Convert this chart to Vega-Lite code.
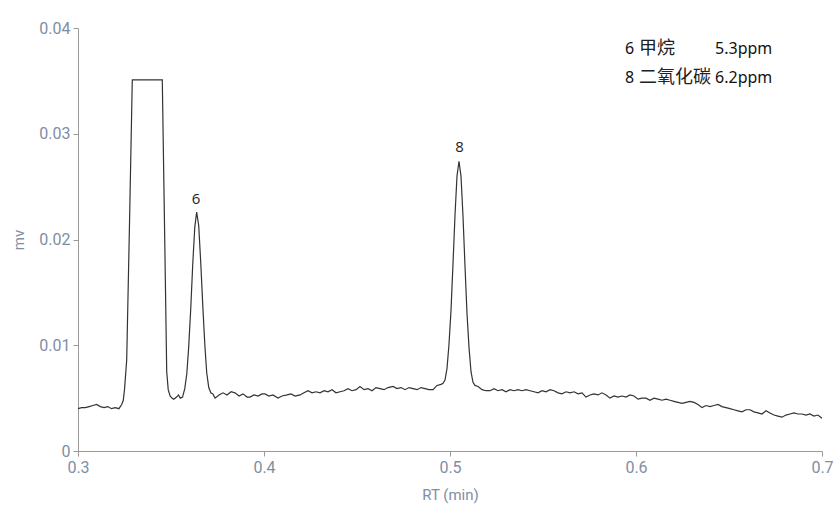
{
  "$schema": "https://vega.github.io/schema/vega-lite/v6.json",
  "width": 744,
  "height": 423,
  "autosize": {"type": "none"},
  "padding": {"left": 78, "top": 28, "right": 16, "bottom": 57},
  "background": "white",
  "config": {
    "view": {"stroke": null},
    "axis": {
      "grid": false,
      "domainColor": "#9a9a9a",
      "tickColor": "#9a9a9a",
      "tickSize": 5,
      "labelPadding": 3,
      "labelFlush": false,
      "labelColor": "#7f8ea3",
      "titleColor": "#7f8ea3",
      "labelFont": "Roboto",
      "titleFont": "Roboto",
      "labelFontSize": 16,
      "titleFontSize": 15,
      "titleFontWeight": "normal"
    }
  },
  "datasets": {
    "trace": [
      {"t": 0.3000, "v": 0.0040}, {"t": 0.3020, "v": 0.0041}, {"t": 0.3040, "v": 0.0041}, {"t": 0.3060, "v": 0.0042},
      {"t": 0.3080, "v": 0.0043}, {"t": 0.3100, "v": 0.0044}, {"t": 0.3120, "v": 0.0042}, {"t": 0.3140, "v": 0.0041},
      {"t": 0.3160, "v": 0.0042}, {"t": 0.3180, "v": 0.0040}, {"t": 0.3200, "v": 0.0041}, {"t": 0.3220, "v": 0.0040},
      {"t": 0.3235, "v": 0.0044}, {"t": 0.32435, "v": 0.0048}, {"t": 0.3250, "v": 0.0058}, {"t": 0.32618, "v": 0.0086},
      {"t": 0.32769, "v": 0.0215}, {"t": 0.32919, "v": 0.0351}, {"t": 0.3350, "v": 0.0351}, {"t": 0.3400, "v": 0.0351},
      {"t": 0.34532, "v": 0.0351}, {"t": 0.3465, "v": 0.0215}, {"t": 0.3477, "v": 0.0075}, {"t": 0.3485, "v": 0.0058},
      {"t": 0.3495, "v": 0.0052}, {"t": 0.3505, "v": 0.0050}, {"t": 0.3515, "v": 0.0049}, {"t": 0.3530, "v": 0.0051},
      {"t": 0.3540, "v": 0.0053}, {"t": 0.3550, "v": 0.0050}, {"t": 0.3562, "v": 0.0051}, {"t": 0.3574, "v": 0.0059},
      {"t": 0.3585, "v": 0.0073}, {"t": 0.3595, "v": 0.0098}, {"t": 0.3606, "v": 0.0134}, {"t": 0.3617, "v": 0.0177},
      {"t": 0.3628, "v": 0.0212}, {"t": 0.3638, "v": 0.0226}, {"t": 0.3649, "v": 0.0213}, {"t": 0.3660, "v": 0.0178},
      {"t": 0.3671, "v": 0.0137}, {"t": 0.3682, "v": 0.0100}, {"t": 0.3692, "v": 0.0074}, {"t": 0.3703, "v": 0.0060},
      {"t": 0.3714, "v": 0.0055}, {"t": 0.3725, "v": 0.0054}, {"t": 0.3737, "v": 0.0050}, {"t": 0.3758, "v": 0.0053},
      {"t": 0.3780, "v": 0.0055}, {"t": 0.3801, "v": 0.0053}, {"t": 0.3823, "v": 0.0056}, {"t": 0.3844, "v": 0.0055},
      {"t": 0.3866, "v": 0.0052}, {"t": 0.3887, "v": 0.0054}, {"t": 0.3909, "v": 0.0051}, {"t": 0.3925, "v": 0.0051},
      {"t": 0.3946, "v": 0.0053}, {"t": 0.3968, "v": 0.0052}, {"t": 0.3989, "v": 0.0054}, {"t": 0.4005, "v": 0.0054},
      {"t": 0.4027, "v": 0.0052}, {"t": 0.4048, "v": 0.0053}, {"t": 0.4075, "v": 0.0050}, {"t": 0.4097, "v": 0.0052},
      {"t": 0.4124, "v": 0.0053}, {"t": 0.4145, "v": 0.0054}, {"t": 0.4167, "v": 0.0052}, {"t": 0.4194, "v": 0.0053},
      {"t": 0.4215, "v": 0.0055}, {"t": 0.4237, "v": 0.0057}, {"t": 0.4258, "v": 0.0055}, {"t": 0.4280, "v": 0.0056},
      {"t": 0.4301, "v": 0.0055}, {"t": 0.4323, "v": 0.0057}, {"t": 0.4344, "v": 0.0056}, {"t": 0.4366, "v": 0.0058},
      {"t": 0.4387, "v": 0.0055}, {"t": 0.4409, "v": 0.0056}, {"t": 0.4430, "v": 0.0057}, {"t": 0.4452, "v": 0.0059},
      {"t": 0.4473, "v": 0.0057}, {"t": 0.4495, "v": 0.0058}, {"t": 0.4516, "v": 0.0061}, {"t": 0.4538, "v": 0.0058},
      {"t": 0.4559, "v": 0.0059}, {"t": 0.4581, "v": 0.0057}, {"t": 0.4602, "v": 0.0060}, {"t": 0.4624, "v": 0.0059},
      {"t": 0.4645, "v": 0.0058}, {"t": 0.4667, "v": 0.0060}, {"t": 0.4694, "v": 0.0061}, {"t": 0.4715, "v": 0.0059},
      {"t": 0.4737, "v": 0.0060}, {"t": 0.4758, "v": 0.0058}, {"t": 0.4780, "v": 0.0060}, {"t": 0.4801, "v": 0.0059},
      {"t": 0.4823, "v": 0.0058}, {"t": 0.4844, "v": 0.0060}, {"t": 0.4866, "v": 0.0059}, {"t": 0.4887, "v": 0.0058},
      {"t": 0.4909, "v": 0.0058}, {"t": 0.4930, "v": 0.0062}, {"t": 0.4952, "v": 0.0063}, {"t": 0.49624, "v": 0.0064},
      {"t": 0.49731, "v": 0.0067}, {"t": 0.49839, "v": 0.0078}, {"t": 0.49946, "v": 0.0101}, {"t": 0.50054, "v": 0.0133},
      {"t": 0.50161, "v": 0.0177}, {"t": 0.50269, "v": 0.0223}, {"t": 0.50376, "v": 0.0260}, {"t": 0.50484, "v": 0.0274},
      {"t": 0.50591, "v": 0.0260}, {"t": 0.50699, "v": 0.0222}, {"t": 0.50806, "v": 0.0175}, {"t": 0.50914, "v": 0.0130},
      {"t": 0.51022, "v": 0.0098}, {"t": 0.51129, "v": 0.0075}, {"t": 0.51237, "v": 0.0065}, {"t": 0.51344, "v": 0.0062},
      {"t": 0.5151, "v": 0.0061}, {"t": 0.5172, "v": 0.0058}, {"t": 0.5194, "v": 0.0057}, {"t": 0.5215, "v": 0.0057},
      {"t": 0.5237, "v": 0.0059}, {"t": 0.5258, "v": 0.0057}, {"t": 0.5280, "v": 0.0058}, {"t": 0.5301, "v": 0.0056},
      {"t": 0.5323, "v": 0.0058}, {"t": 0.5344, "v": 0.0057}, {"t": 0.5366, "v": 0.0058}, {"t": 0.5387, "v": 0.0057},
      {"t": 0.5409, "v": 0.0058}, {"t": 0.5430, "v": 0.0057}, {"t": 0.5452, "v": 0.0056}, {"t": 0.5473, "v": 0.0055},
      {"t": 0.5495, "v": 0.0057}, {"t": 0.5516, "v": 0.0056}, {"t": 0.5538, "v": 0.0058}, {"t": 0.5559, "v": 0.0057},
      {"t": 0.5581, "v": 0.0055}, {"t": 0.5602, "v": 0.0054}, {"t": 0.5624, "v": 0.0056}, {"t": 0.5645, "v": 0.0055},
      {"t": 0.5667, "v": 0.0056}, {"t": 0.5688, "v": 0.0054}, {"t": 0.5710, "v": 0.0055}, {"t": 0.5731, "v": 0.0051},
      {"t": 0.5753, "v": 0.0053}, {"t": 0.5774, "v": 0.0054}, {"t": 0.5796, "v": 0.0053}, {"t": 0.5817, "v": 0.0055},
      {"t": 0.5839, "v": 0.0053}, {"t": 0.5860, "v": 0.0050}, {"t": 0.5882, "v": 0.0052}, {"t": 0.5903, "v": 0.0051},
      {"t": 0.5925, "v": 0.0052}, {"t": 0.5946, "v": 0.0051}, {"t": 0.5968, "v": 0.0053}, {"t": 0.5989, "v": 0.0052},
      {"t": 0.6011, "v": 0.0049}, {"t": 0.6032, "v": 0.0050}, {"t": 0.6054, "v": 0.0050}, {"t": 0.6075, "v": 0.0048},
      {"t": 0.6097, "v": 0.0050}, {"t": 0.6118, "v": 0.0049}, {"t": 0.6140, "v": 0.0048}, {"t": 0.6161, "v": 0.0049},
      {"t": 0.6183, "v": 0.0048}, {"t": 0.6204, "v": 0.0047}, {"t": 0.6226, "v": 0.0046}, {"t": 0.6247, "v": 0.0045},
      {"t": 0.6269, "v": 0.0046}, {"t": 0.6290, "v": 0.0047}, {"t": 0.6312, "v": 0.0046}, {"t": 0.6333, "v": 0.0044},
      {"t": 0.6355, "v": 0.0041}, {"t": 0.6376, "v": 0.0043}, {"t": 0.6398, "v": 0.0042}, {"t": 0.6419, "v": 0.0043},
      {"t": 0.6441, "v": 0.0044}, {"t": 0.6462, "v": 0.0042}, {"t": 0.6484, "v": 0.0041}, {"t": 0.6505, "v": 0.0040},
      {"t": 0.6527, "v": 0.0039}, {"t": 0.6548, "v": 0.0038}, {"t": 0.6570, "v": 0.0037}, {"t": 0.6591, "v": 0.0039},
      {"t": 0.6613, "v": 0.0039}, {"t": 0.6634, "v": 0.0037}, {"t": 0.6656, "v": 0.0036}, {"t": 0.6677, "v": 0.0035},
      {"t": 0.6699, "v": 0.0038}, {"t": 0.6720, "v": 0.0036}, {"t": 0.6742, "v": 0.0034}, {"t": 0.6763, "v": 0.0033},
      {"t": 0.6785, "v": 0.0032}, {"t": 0.6806, "v": 0.0034}, {"t": 0.6828, "v": 0.0035}, {"t": 0.6849, "v": 0.0036},
      {"t": 0.6871, "v": 0.0035}, {"t": 0.6892, "v": 0.0035}, {"t": 0.6914, "v": 0.0034}, {"t": 0.6935, "v": 0.0035},
      {"t": 0.6957, "v": 0.0033}, {"t": 0.6978, "v": 0.0034}, {"t": 0.7000, "v": 0.0031}
    ],
    "peaks": [
      {"t": 0.3635, "v": 0.0238, "txt": "6"},
      {"t": 0.5051, "v": 0.0287, "txt": "8"}
    ],
    "legendnum": [
      {"t": 0.5941, "v": 0.0380, "txt": "6"},
      {"t": 0.6425, "v": 0.0380, "txt": "5.3ppm"},
      {"t": 0.5941, "v": 0.0353, "txt": "8"},
      {"t": 0.6425, "v": 0.0353, "txt": "6.2ppm"}
    ],
    "legendcjk": [
      {"t": 0.6016, "v": 0.0380, "txt": "甲烷"},
      {"t": 0.6016, "v": 0.0353, "txt": "二氧化碳"}
    ]
  },
  "layer": [
    {
      "data": {"name": "trace"},
      "mark": {"type": "line", "color": "#333333", "strokeWidth": 1.2, "interpolate": "linear"},
      "encoding": {
        "x": {
          "field": "t", "type": "quantitative",
          "scale": {"domain": [0.3, 0.7], "nice": false, "zero": false},
          "axis": {"values": [0.3, 0.4, 0.5, 0.6, 0.7], "format": "~g", "titlePadding": 12},
          "title": "RT (min)"
        },
        "y": {
          "field": "v", "type": "quantitative",
          "scale": {"domain": [0, 0.04], "nice": false},
          "axis": {"values": [0, 0.01, 0.02, 0.03, 0.04], "format": "~g", "titlePadding": 12},
          "title": "mv"
        }
      }
    },
    {
      "data": {"name": "peaks"},
      "mark": {"type": "text", "font": "Open Sans", "fontSize": 15, "color": "#222222", "baseline": "middle", "align": "center"},
      "encoding": {
        "x": {"field": "t", "type": "quantitative", "title": "RT (min)"},
        "y": {"field": "v", "type": "quantitative", "title": "mv"},
        "text": {"field": "txt"}
      }
    },
    {
      "data": {"name": "legendnum"},
      "mark": {"type": "text", "font": "Noto Sans", "fontSize": 16, "color": "#111111", "baseline": "middle", "align": "left"},
      "encoding": {
        "x": {"field": "t", "type": "quantitative", "title": "RT (min)"},
        "y": {"field": "v", "type": "quantitative", "title": "mv"},
        "text": {"field": "txt"}
      }
    },
    {
      "data": {"name": "legendcjk"},
      "mark": {"type": "text", "font": "Noto Sans CJK SC", "fontSize": 18, "color": "#222222", "baseline": "middle", "align": "left"},
      "encoding": {
        "x": {"field": "t", "type": "quantitative", "title": "RT (min)"},
        "y": {"field": "v", "type": "quantitative", "title": "mv"},
        "text": {"field": "txt"}
      }
    }
  ]
}
